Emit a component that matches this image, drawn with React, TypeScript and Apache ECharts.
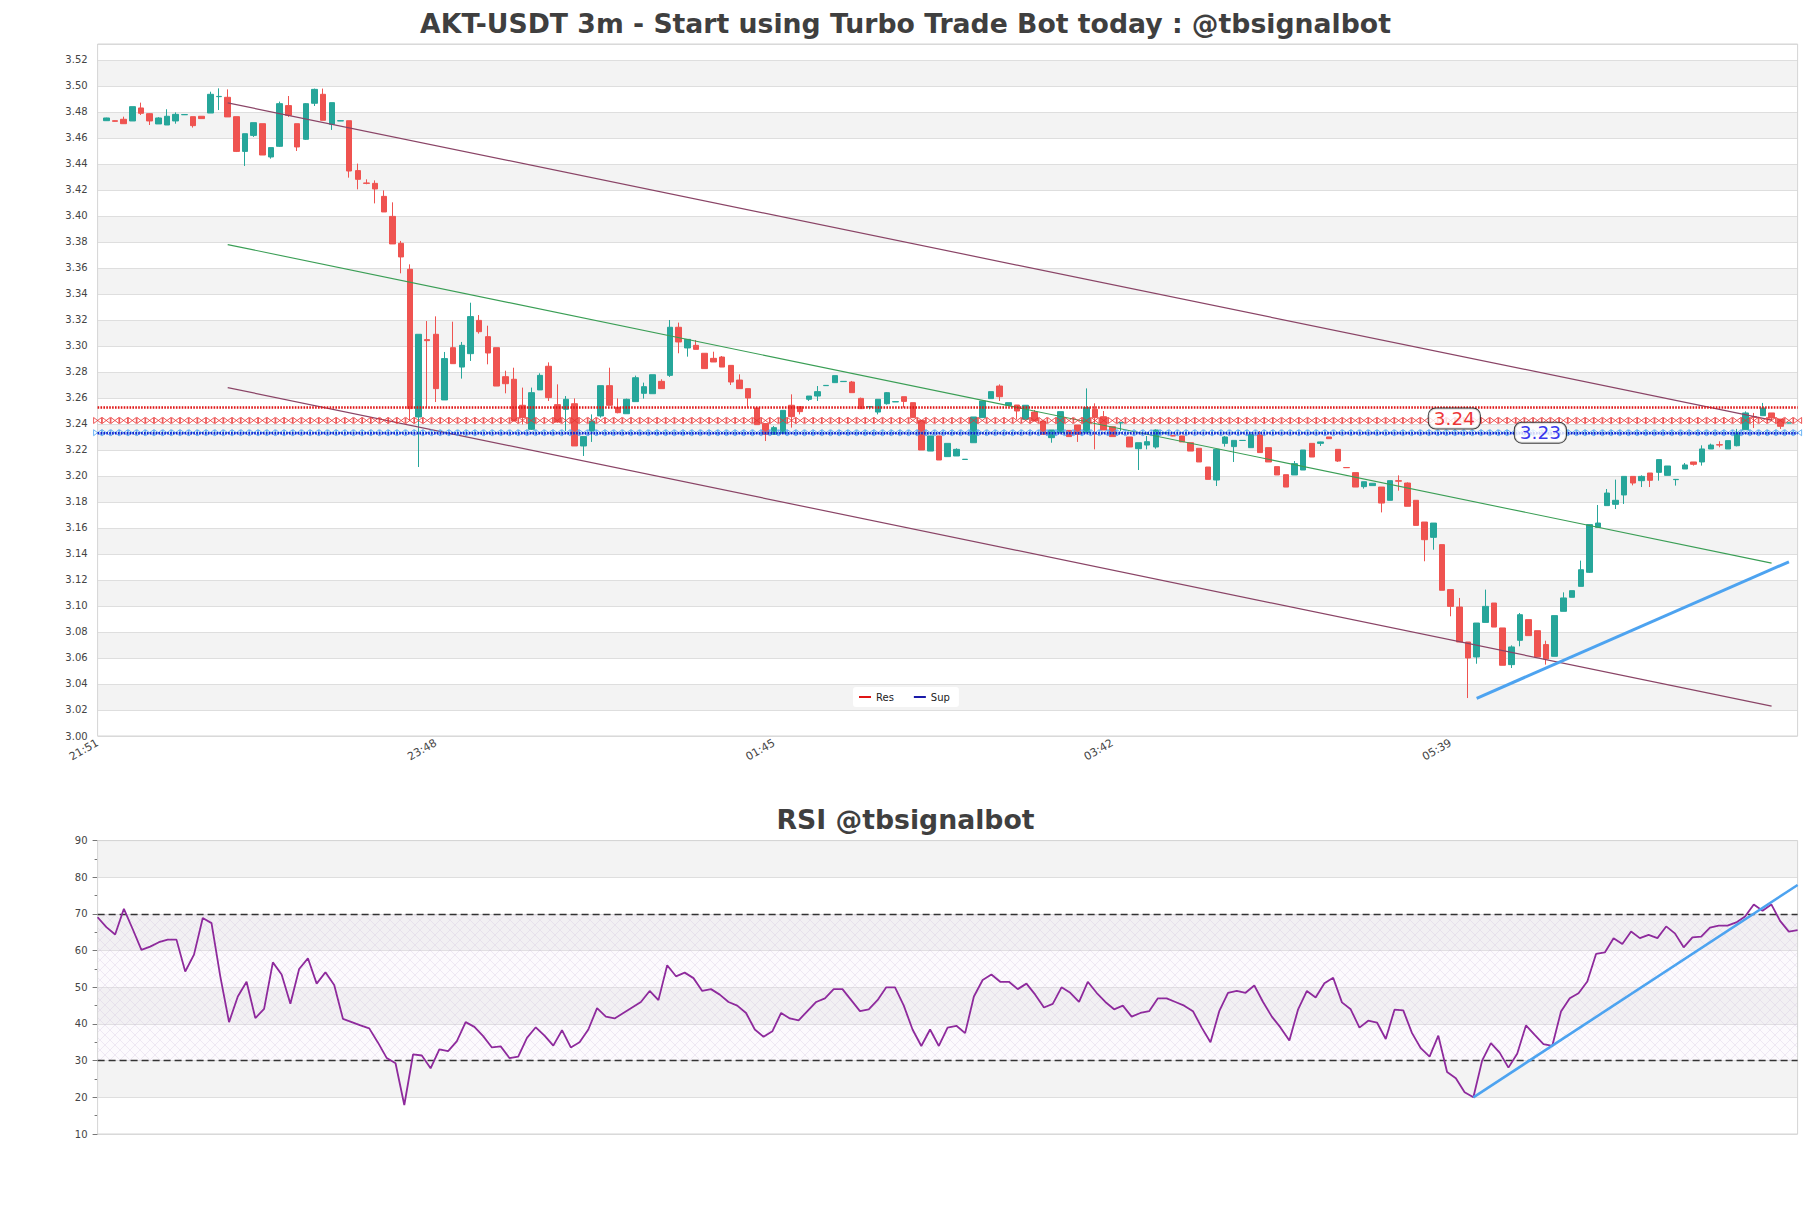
import React, { useEffect, useRef } from "react";
import * as echarts from "echarts";

// ---------- data ----------
const START_TIME = "21:51"; // first x tick (left edge of the price panel)
const STEP_MIN = 3;

const OPEN = [
  3.4733, 3.4733, 3.4744, 3.4731, 3.4831, 3.4787, 3.4708, 3.4700, 3.4731, 3.4779,
  3.4764, 3.4767, 3.4792, 3.4918, 3.4913, 3.4764, 3.4497, 3.4620, 3.4710, 3.4454,
  3.4536, 3.4849, 3.4710, 3.4590, 3.4867, 3.4936, 3.4705, 3.4731, 3.4733, 3.4349,
  3.4254, 3.4251, 3.4151, 3.3997, 3.3790, 3.3590, 3.2454, 3.3049, 3.3090, 3.2585,
  3.2987, 3.2838, 3.2941, 3.3197, 3.3072, 3.2987, 3.2764, 3.2744, 3.2544, 3.2359,
  3.2662, 3.2844, 3.2549, 3.2513, 3.2556, 3.2231, 3.2346, 3.2462, 3.2695, 3.2526,
  3.2479, 3.2572, 3.2636, 3.2633, 3.2728, 3.2774, 3.3144, 3.2985, 3.3005, 3.2944,
  3.2905, 3.2915, 3.2851, 3.2738, 3.2672, 3.2523, 3.2403, 3.2321, 3.2328, 3.2544,
  3.2533, 3.2590, 3.2615, 3.2695, 3.2718, 3.2726, 3.2723, 3.2597, 3.2531, 3.2492,
  3.2556, 3.2570, 3.2610, 3.2564, 3.2428, 3.2192, 3.2308, 3.2149, 3.2154, 3.2127,
  3.2256, 3.2449, 3.2595, 3.2692, 3.2544, 3.2546, 3.2436, 3.2492, 3.2423, 3.2295,
  3.2333, 3.2351, 3.2392, 3.2333, 3.2513, 3.2456, 3.2379, 3.2408, 3.2300, 3.2210,
  3.2238, 3.2223, 3.2331, 3.2310, 3.2308, 3.2256, 3.2213, 3.2069, 3.1969, 3.2251,
  3.2226, 3.2273, 3.2218, 3.2315, 3.2218, 3.2072, 3.2010, 3.2008, 3.2046, 3.2251,
  3.2251, 3.2300, 3.2205, 3.2065, 3.2026, 3.1918, 3.1926, 3.1915, 3.1813, 3.1964,
  3.1946, 3.1813, 3.1646, 3.1528, 3.1472, 3.1126, 3.0992, 3.0723, 3.0608, 3.0874,
  3.1023, 3.0831, 3.0549, 3.0736, 3.0895, 3.0810, 3.0703, 3.0613, 3.0959, 3.1067,
  3.1151, 3.1259, 3.1605, 3.1772, 3.1782, 3.1854, 3.1997, 3.1964, 3.2023, 3.2028,
  3.2005, 3.1972, 3.2054, 3.2108, 3.2108, 3.2208, 3.2241, 3.2208, 3.2233, 3.2356,
  3.2456, 3.2464, 3.2485, 3.2438, 3.2408,
];
const HIGH = [
  3.4756, 3.4735, 3.4764, 3.4841, 3.4872, 3.4790, 3.4760, 3.4821, 3.4797, 3.4781,
  3.4764, 3.4767, 3.4956, 3.4982, 3.4974, 3.4764, 3.4633, 3.4718, 3.4710, 3.4526,
  3.4880, 3.4923, 3.4710, 3.4869, 3.4980, 3.4980, 3.4872, 3.4735, 3.4733, 3.4403,
  3.4282, 3.4274, 3.4197, 3.4105, 3.3808, 3.3628, 3.3090, 3.3192, 3.3228, 3.2954,
  3.3187, 3.3031, 3.3333, 3.3238, 3.3156, 3.2987, 3.2810, 3.2833, 3.2680, 3.2680,
  3.2790, 3.2874, 3.2705, 3.2615, 3.2597, 3.2303, 3.2474, 3.2695, 3.2833, 3.2597,
  3.2595, 3.2772, 3.2718, 3.2779, 3.2744, 3.3200, 3.3180, 3.3051, 3.3046, 3.2944,
  3.2956, 3.2923, 3.2851, 3.2782, 3.2672, 3.2523, 3.2403, 3.2385, 3.2505, 3.2628,
  3.2533, 3.2615, 3.2692, 3.2699, 3.2772, 3.2730, 3.2731, 3.2603, 3.2535, 3.2590,
  3.2646, 3.2574, 3.2610, 3.2564, 3.2428, 3.2308, 3.2308, 3.2251, 3.2213, 3.2130,
  3.2454, 3.2577, 3.2649, 3.2705, 3.2564, 3.2546, 3.2544, 3.2508, 3.2423, 3.2354,
  3.2495, 3.2351, 3.2392, 3.2674, 3.2559, 3.2500, 3.2379, 3.2415, 3.2300, 3.2256,
  3.2308, 3.2359, 3.2335, 3.2312, 3.2308, 3.2256, 3.2213, 3.2069, 3.2205, 3.2308,
  3.2274, 3.2276, 3.2321, 3.2346, 3.2218, 3.2072, 3.2010, 3.2115, 3.2200, 3.2251,
  3.2264, 3.2300, 3.2205, 3.2066, 3.2026, 3.1956, 3.1944, 3.1915, 3.1964, 3.2005,
  3.1951, 3.1813, 3.1646, 3.1638, 3.1472, 3.1126, 3.1062, 3.0723, 3.0869, 3.1126,
  3.1023, 3.0831, 3.0697, 3.0946, 3.0895, 3.0810, 3.0733, 3.0926, 3.1105, 3.1118,
  3.1349, 3.1626, 3.1777, 3.1900, 3.1972, 3.1997, 3.1997, 3.2005, 3.2023, 3.2126,
  3.2077, 3.1976, 3.2100, 3.2108, 3.2236, 3.2249, 3.2267, 3.2272, 3.2362, 3.2497,
  3.2485, 3.2562, 3.2485, 3.2438, 3.2410,
];
const LOW = [
  3.4731, 3.4726, 3.4708, 3.4731, 3.4777, 3.4700, 3.4708, 3.4700, 3.4710, 3.4778,
  3.4680, 3.4749, 3.4792, 3.4815, 3.4762, 3.4492, 3.4385, 3.4608, 3.4469, 3.4441,
  3.4531, 3.4762, 3.4500, 3.4585, 3.4846, 3.4736, 3.4662, 3.4730, 3.4295, 3.4205,
  3.4244, 3.4097, 3.4031, 3.3785, 3.3559, 3.2423, 3.2069, 3.2526, 3.2569, 3.2585,
  3.2864, 3.2749, 3.2885, 3.3095, 3.2859, 3.2692, 3.2636, 3.2423, 3.2397, 3.2354,
  3.2662, 3.2577, 3.2410, 3.2346, 3.2231, 3.2154, 3.2262, 3.2449, 3.2544, 3.2482,
  3.2479, 3.2572, 3.2595, 3.2633, 3.2672, 3.2762, 3.2944, 3.2918, 3.2974, 3.2826,
  3.2877, 3.2838, 3.2700, 3.2672, 3.2526, 3.2395, 3.2269, 3.2321, 3.2328, 3.2372,
  3.2474, 3.2577, 3.2577, 3.2694, 3.2718, 3.2726, 3.2641, 3.2518, 3.2513, 3.2474,
  3.2549, 3.2570, 3.2526, 3.2449, 3.2200, 3.2192, 3.2123, 3.2149, 3.2154, 3.2126,
  3.2256, 3.2449, 3.2595, 3.2577, 3.2544, 3.2436, 3.2436, 3.2423, 3.2321, 3.2256,
  3.2333, 3.2303, 3.2262, 3.2333, 3.2205, 3.2354, 3.2303, 3.2346, 3.2223, 3.2046,
  3.2205, 3.2210, 3.2330, 3.2306, 3.2262, 3.2192, 3.2108, 3.1974, 3.1923, 3.2226,
  3.2108, 3.2272, 3.2218, 3.2180, 3.2108, 3.2008, 3.1915, 3.2008, 3.2046, 3.2146,
  3.2231, 3.2287, 3.2108, 3.2063, 3.1915, 3.1903, 3.1926, 3.1720, 3.1813, 3.1887,
  3.1767, 3.1620, 3.1344, 3.1433, 3.1121, 3.0921, 3.0723, 3.0292, 3.0556, 3.0874,
  3.0838, 3.0544, 3.0523, 3.0690, 3.0772, 3.0608, 3.0549, 3.0613, 3.0959, 3.1067,
  3.1151, 3.1254, 3.1605, 3.1772, 3.1746, 3.1785, 3.1928, 3.1915, 3.1915, 3.1964,
  3.2005, 3.1926, 3.2054, 3.2080, 3.2080, 3.2208, 3.2221, 3.2208, 3.2228, 3.2356,
  3.2369, 3.2464, 3.2421, 3.2362, 3.2406,
];
const CLOSE = [
  3.4754, 3.4728, 3.4710, 3.4841, 3.4790, 3.4731, 3.4754, 3.4767, 3.4782, 3.4780,
  3.4695, 3.4749, 3.4936, 3.4920, 3.4762, 3.4497, 3.4633, 3.4718, 3.4469, 3.4526,
  3.4864, 3.4774, 3.4531, 3.4864, 3.4974, 3.4736, 3.4872, 3.4733, 3.4346, 3.4282,
  3.4251, 3.4208, 3.4031, 3.3785, 3.3685, 3.2518, 3.3090, 3.3041, 3.2672, 3.2903,
  3.2864, 3.3005, 3.3226, 3.3110, 3.2946, 3.2692, 3.2710, 3.2423, 3.2449, 3.2641,
  3.2774, 3.2603, 3.2415, 3.2590, 3.2231, 3.2303, 3.2423, 3.2695, 3.2544, 3.2487,
  3.2590, 3.2756, 3.2687, 3.2779, 3.2672, 3.3144, 3.3031, 3.3051, 3.2974, 3.2826,
  3.2877, 3.2838, 3.2723, 3.2672, 3.2600, 3.2395, 3.2321, 3.2372, 3.2505, 3.2456,
  3.2495, 3.2615, 3.2649, 3.2697, 3.2772, 3.2728, 3.2641, 3.2518, 3.2533, 3.2590,
  3.2641, 3.2572, 3.2574, 3.2449, 3.2200, 3.2308, 3.2123, 3.2251, 3.2205, 3.2129,
  3.2454, 3.2577, 3.2649, 3.2610, 3.2564, 3.2500, 3.2544, 3.2423, 3.2321, 3.2354,
  3.2495, 3.2303, 3.2321, 3.2526, 3.2449, 3.2354, 3.2303, 3.2410, 3.2223, 3.2256,
  3.2264, 3.2354, 3.2333, 3.2308, 3.2262, 3.2192, 3.2108, 3.1974, 3.2205, 3.2300,
  3.2274, 3.2274, 3.2321, 3.2180, 3.2108, 3.2008, 3.1915, 3.2095, 3.2200, 3.2146,
  3.2262, 3.2287, 3.2115, 3.2064, 3.1915, 3.1956, 3.1944, 3.1792, 3.1964, 3.1960,
  3.1767, 3.1620, 3.1510, 3.1638, 3.1121, 3.0997, 3.0723, 3.0600, 3.0869, 3.0997,
  3.0838, 3.0544, 3.0685, 3.0933, 3.0772, 3.0608, 3.0592, 3.0926, 3.1062, 3.1118,
  3.1279, 3.1626, 3.1638, 3.1869, 3.1813, 3.1997, 3.1946, 3.1997, 3.1967, 3.2126,
  3.2077, 3.1974, 3.2085, 3.2090, 3.2208, 3.2238, 3.2238, 3.2272, 3.2331, 3.2485,
  3.2451, 3.2523, 3.2446, 3.2382, 3.2408,
];
const RSI = [
  69.1, 66.4, 64.4, 71.4, 65.9, 60.2, 61.1, 62.3, 63.0, 63.0,
  54.3, 58.9, 68.9, 67.5, 53.0, 40.5, 47.5, 51.5, 41.6, 44.1,
  56.8, 53.5, 45.5, 55.0, 57.9, 51.0, 54.1, 50.6, 41.4, 40.5,
  39.6, 38.8, 34.9, 30.7, 29.3, 17.9, 31.7, 31.4, 27.9, 33.1,
  32.6, 35.3, 40.5, 39.2, 36.7, 33.6, 33.9, 30.7, 31.1, 36.2,
  39.1, 36.8, 34.1, 38.3, 33.6, 35.0, 38.5, 44.3, 42.0, 41.5,
  43.0, 44.5, 46.0, 49.0, 46.5, 56.0, 53.0, 54.0, 52.5, 49.0,
  49.5, 48.0, 46.0, 45.0, 43.0, 38.5, 36.5, 38.0, 43.0, 41.5,
  41.0, 43.5, 46.0, 47.0, 49.5, 49.5, 46.5, 43.5, 44.0, 46.5,
  50.0, 50.0, 45.0, 38.5, 34.0, 38.5, 34.0, 39.0, 39.5, 37.5,
  47.5, 52.0, 53.5, 51.5, 51.5, 49.5, 51.0, 48.0, 44.5, 45.5,
  50.0, 48.5, 46.0, 51.5, 48.5, 46.0, 44.0, 45.0, 42.0, 43.0,
  43.5, 47.0, 47.0, 46.0, 45.0, 43.5, 39.0, 35.0, 43.5, 48.5,
  49.0, 48.5, 50.5, 46.0, 42.0, 39.0, 35.5, 44.0, 49.0, 47.2,
  51.1, 52.6, 45.9, 44.0, 39.0, 40.9, 40.4, 35.9, 43.9, 43.7,
  37.5, 33.4, 31.1, 36.8, 26.9, 25.2, 21.4, 20.0, 30.0, 34.8,
  32.2, 28.1, 31.9, 39.6, 37.0, 34.5, 34.0, 43.4, 47.0, 48.4,
  51.6, 59.1, 59.5, 63.4, 61.8, 65.2, 63.4, 64.3, 63.4, 66.6,
  64.7, 60.9, 63.6, 63.8, 66.3, 66.8, 66.8, 67.7, 69.3, 72.6,
  70.9, 72.6, 68.1, 65.2, 65.6,
];

// trend lines: [candle index, price]
const UPPER_LINE = [[14, 3.487], [192, 3.243]];
const MID_LINE = [[14, 3.378], [192, 3.133]];
const LOWER_LINE = [[14, 3.268], [192, 3.023]];
const PRICE_TREND = [[158, 3.029], [194, 3.134]];
const RSI_TREND = [[157, 20.0], [194, 77.9]];

// support / resistance levels
const RES_LINE = 3.2527;
const RES_LEVEL = 3.2427;
const SUP_LINE = 3.2329;
const SUP_LEVEL = 3.2333;
const RES_LABEL_AT = 156;
const SUP_LABEL_AT = 165;

const PRICE_MIN = 3.0;
const PRICE_MAX = 3.5323;
const PRICE_STEP = 0.02;
const RSI_MIN = 10;
const RSI_MAX = 90;
const RSI_STEP = 10;
const RSI_OB = 70;
const RSI_OS = 30;
const LABEL_EVERY = 39;
const LAST_LABEL = 156;

const FONT = "DejaVu Sans";

function buildTimes(n: number): string[] {
  const [h, m] = START_TIME.split(":").map(Number);
  const out: string[] = [];
  for (let k = 0; k < n; k++) {
    const t = (h * 60 + m + k * STEP_MIN) % 1440;
    out.push(
      String(Math.floor(t / 60)).padStart(2, "0") + ":" + String(t % 60).padStart(2, "0")
    );
  }
  return out;
}

function hatchPattern(): any {
  const c = document.createElement("canvas");
  c.width = 10;
  c.height = 10;
  const ctx = c.getContext("2d");
  if (ctx) {
    ctx.fillStyle = "rgba(238,230,244,0.18)";
    ctx.fillRect(0, 0, 10, 10);
    ctx.strokeStyle = "rgba(200,180,215,0.45)";
    ctx.lineWidth = 0.6;
    ctx.beginPath();
    ctx.moveTo(0, 0);
    ctx.lineTo(10, 10);
    ctx.moveTo(10, 0);
    ctx.lineTo(0, 10);
    ctx.stroke();
  }
  return { image: c.toDataURL(), repeat: "repeat", imageWidth: 10, imageHeight: 10 };
}

// bow-tie / boxed-x glyph used for the level rows
const MARKER = "path://M0,0L10,8M10,0L0,8M0,0L0,8M10,0L10,8";

export default function App() {
  const ref = useRef<HTMLDivElement>(null);
  useEffect(() => {
    if (!ref.current) return;
    const chart = echarts.init(ref.current, undefined, { renderer: "svg" });
    const n = CLOSE.length;
    const cats = buildTimes(n + 2); // one padding slot on each side
    const candles: any[] = ["-"];
    for (let i = 0; i < n; i++) candles.push([OPEN[i], CLOSE[i], LOW[i], HIGH[i]]);
    candles.push("-");
    const shift = (pts: number[][]) => pts.map((p) => [p[0] + 1, p[1]]);
    const rsiCats = RSI.map((_, i) => String(i));
    const resRow = cats.map(() => RES_LEVEL);
    const supRow = cats.map(() => SUP_LEVEL);
    const last = cats.length - 1;
    const titleStyle = { fontFamily: FONT, fontSize: 26.7, fontWeight: "bold", color: "#3f3f3f" };

    const option: any = {
      animation: false,
      backgroundColor: "#ffffff",
      textStyle: { fontFamily: FONT },
      title: [
        {
          text: "AKT-USDT 3m - Start using Turbo Trade Bot today : @tbsignalbot",
          left: "center",
          top: 10,
          padding: 0,
          textStyle: titleStyle,
        },
        {
          text: "RSI @tbsignalbot",
          left: "center",
          top: 806,
          padding: 0,
          textStyle: titleStyle,
        },
      ],
      legend: {
        data: ["Res", "Sup"],
        left: 853,
        top: 687,
        selectedMode: false,
        icon: "rect",
        itemWidth: 12,
        itemHeight: 2,
        itemGap: 20,
        padding: [5, 9, 5, 6],
        backgroundColor: "#ffffff",
        borderRadius: 3,
        textStyle: { fontFamily: FONT, fontSize: 10, color: "#222" },
      },
      grid: [
        { left: 97.6, top: 44, width: 1700, height: 692, show: true, borderColor: "#d4d4d4", borderWidth: 1, backgroundColor: "transparent", z: 3 },
        { left: 97.6, top: 840.6, width: 1700, height: 293.4, show: true, borderColor: "#d4d4d4", borderWidth: 1, backgroundColor: "transparent", z: 3 },
      ],
      xAxis: [
        {
          type: "category",
          gridIndex: 0,
          data: cats,
          boundaryGap: false,
          axisLine: { show: false },
          axisTick: { show: false },
          splitLine: { show: false },
          axisLabel: {
            interval: (idx: number) => idx % LABEL_EVERY === 0 && idx <= LAST_LABEL,
            rotate: 30,
            margin: 6,
            fontSize: 11,
            color: "#444",
            fontFamily: FONT,
          },
        },
        {
          type: "category",
          gridIndex: 1,
          data: rsiCats,
          boundaryGap: false,
          axisLine: { show: false },
          axisTick: { show: false },
          axisLabel: { show: false },
          splitLine: { show: false },
        },
      ],
      yAxis: [
        {
          type: "value",
          gridIndex: 0,
          min: PRICE_MIN,
          max: PRICE_MAX,
          interval: PRICE_STEP,
          axisLine: { show: false },
          axisTick: { show: false },
          axisLabel: {
            showMaxLabel: false,
            formatter: (v: number) => v.toFixed(2),
            fontSize: 10,
            margin: 10,
            color: "#444",
            fontFamily: FONT,
          },
          splitLine: { show: true, lineStyle: { color: "#dedede", width: 1 } },
          splitArea: { show: true, areaStyle: { color: ["#ffffff", "#f3f3f3"] } },
        },
        {
          type: "value",
          gridIndex: 1,
          min: RSI_MIN,
          max: RSI_MAX,
          interval: RSI_STEP,
          axisLine: { show: false },
          axisTick: { show: true, length: 5, lineStyle: { color: "#777" } },
          minorTick: { show: true, splitNumber: 2, length: 3, lineStyle: { color: "#777" } },
          axisLabel: { fontSize: 10, margin: 10, color: "#444", fontFamily: FONT },
          splitLine: { show: true, lineStyle: { color: "#dedede", width: 1 } },
          splitArea: { show: true, areaStyle: { color: ["#ffffff", "#f3f3f3"] } },
        },
      ],
      series: [
        {
          type: "candlestick",
          xAxisIndex: 0,
          yAxisIndex: 0,
          data: candles,
          barWidth: 6,
          itemStyle: {
            color: "#26a69a",
            color0: "#ef5350",
            borderColor: "#26a69a",
            borderColor0: "#ef5350",
            borderWidth: 1,
          },
          z: 3,
        },
        {
          type: "line",
          name: "upper",
          xAxisIndex: 0,
          yAxisIndex: 0,
          data: shift(UPPER_LINE),
          symbol: "none",
          lineStyle: { color: "#8a4466", width: 1.2 },
          z: 4,
        },
        {
          type: "line",
          name: "mid",
          xAxisIndex: 0,
          yAxisIndex: 0,
          data: shift(MID_LINE),
          symbol: "none",
          lineStyle: { color: "#3a9e55", width: 1.1 },
          z: 4,
        },
        {
          type: "line",
          name: "lower",
          xAxisIndex: 0,
          yAxisIndex: 0,
          data: shift(LOWER_LINE),
          symbol: "none",
          lineStyle: { color: "#8a4466", width: 1.2 },
          z: 4,
        },
        {
          type: "line",
          name: "resMarks",
          xAxisIndex: 0,
          yAxisIndex: 0,
          data: resRow,
          symbol: MARKER,
          symbolSize: [8, 6],
          showSymbol: true,
          showAllSymbol: true,
          lineStyle: { width: 0, opacity: 0 },
          itemStyle: { color: "rgba(255,255,255,0)", borderColor: "#e83030", borderWidth: 0.8 },
          z: 5,
        },
        {
          type: "line",
          name: "supMarks",
          xAxisIndex: 0,
          yAxisIndex: 0,
          data: supRow,
          symbol: MARKER,
          symbolSize: [8, 6],
          showSymbol: true,
          showAllSymbol: true,
          lineStyle: { width: 0, opacity: 0 },
          itemStyle: { color: "rgba(255,255,255,0)", borderColor: "#4aa3f2", borderWidth: 0.8 },
          z: 5,
        },
        {
          type: "line",
          name: "Res",
          xAxisIndex: 0,
          yAxisIndex: 0,
          data: [[0, RES_LINE], [last, RES_LINE]],
          symbol: "none",
          color: "#e01515",
          lineStyle: { color: "#e01515", width: 2.6, type: [1.6, 1.3] },
          z: 6,
        },
        {
          type: "line",
          name: "Sup",
          xAxisIndex: 0,
          yAxisIndex: 0,
          data: [[0, SUP_LINE], [last, SUP_LINE]],
          symbol: "none",
          color: "#1a1aa8",
          lineStyle: { color: "#1020d0", width: 2.4, type: [1.6, 1.3] },
          z: 6,
        },
        {
          type: "line",
          name: "trend",
          xAxisIndex: 0,
          yAxisIndex: 0,
          data: shift(PRICE_TREND),
          symbol: "none",
          lineStyle: { color: "#4da3f0", width: 3 },
          z: 6,
        },
        {
          type: "scatter",
          name: "resLabel",
          xAxisIndex: 0,
          yAxisIndex: 0,
          data: [[RES_LABEL_AT + 1, RES_LEVEL]],
          symbolSize: 1,
          itemStyle: { color: "rgba(0,0,0,0)" },
          label: {
            show: true,
            position: "inside",
            offset: [-5, -2],
            formatter: () => RES_LEVEL.toFixed(2),
            color: "#e80000",
            fontSize: 18.5,
            fontFamily: FONT,
            backgroundColor: "#ffffff",
            borderColor: "#111",
            borderWidth: 1,
            borderRadius: 7,
            padding: [1, 5, 0, 5],
          },
          z: 8,
        },
        {
          type: "scatter",
          name: "supLabel",
          xAxisIndex: 0,
          yAxisIndex: 0,
          data: [[SUP_LABEL_AT + 1, SUP_LEVEL]],
          symbolSize: 1,
          itemStyle: { color: "rgba(0,0,0,0)" },
          label: {
            show: true,
            position: "inside",
            offset: [3, 0],
            formatter: () => SUP_LEVEL.toFixed(2),
            color: "#0000e8",
            fontSize: 18.5,
            fontFamily: FONT,
            backgroundColor: "#ffffff",
            borderColor: "#111",
            borderWidth: 1,
            borderRadius: 7,
            padding: [1, 5, 0, 5],
          },
          z: 8,
        },
        {
          type: "line",
          name: "RSI",
          xAxisIndex: 1,
          yAxisIndex: 1,
          data: RSI,
          symbol: "none",
          lineStyle: { color: "#8e2a9c", width: 1.8 },
          z: 5,
          markArea: {
            silent: true,
            itemStyle: { color: hatchPattern() },
            data: [[{ yAxis: RSI_OS }, { yAxis: RSI_OB }]],
          },
          markLine: {
            silent: true,
            symbol: ["none", "none"],
            label: { show: false },
            lineStyle: { color: "#333", type: [7, 4], width: 1.3 },
            data: [{ yAxis: RSI_OS }, { yAxis: RSI_OB }],
          },
        },
        {
          type: "line",
          name: "rsiTrend",
          xAxisIndex: 1,
          yAxisIndex: 1,
          data: RSI_TREND,
          symbol: "none",
          lineStyle: { color: "#4da3f0", width: 2.6 },
          z: 6,
        },
      ],
    };
    chart.setOption(option);
    return () => chart.dispose();
  }, []);
  return (
    <div
      ref={ref}
      style={{ position: "fixed", left: 0, top: 0, width: 1811, height: 1208, background: "#fff" }}
    />
  );
}
